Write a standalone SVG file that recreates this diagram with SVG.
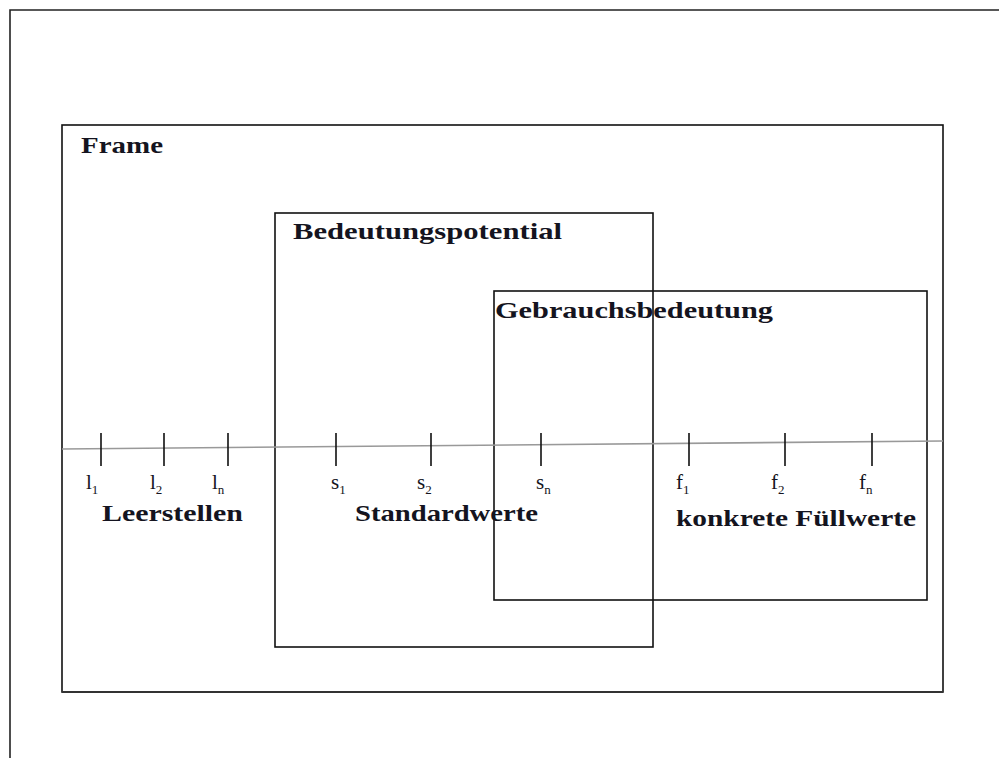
<svg xmlns="http://www.w3.org/2000/svg" width="999" height="758" viewBox="0 0 999 758">
<style>
.box{fill:none;stroke:#111;stroke-width:1.6}
.tick{stroke:#111;stroke-width:1.6}
.t{font-family:"Liberation Serif","DejaVu Serif",serif;fill:#141420}
.h{font-size:24px;font-weight:bold}
.v{font-size:21px}
.sub{font-size:13px}
</style>
<rect width="999" height="758" fill="#fff"/>
<g id="page"><path d="M10 758 V10 H999" fill="none" stroke="#222" stroke-width="1.6"/></g>
<g id="frame"><rect class="box" x="62" y="125" width="881" height="567"/><path d="M62 692 H943" stroke="#333" stroke-width="2.2"/><text class="t h" x="81" y="153" textLength="82" lengthAdjust="spacingAndGlyphs">Frame</text></g>
<g id="bedeutungspotential"><rect class="box" x="275" y="213" width="378" height="434"/><text class="t h" x="293" y="239" textLength="269" lengthAdjust="spacingAndGlyphs">Bedeutungspotential</text></g>
<g id="gebrauchsbedeutung"><rect class="box" x="494" y="291" width="433" height="309"/><text class="t h" x="495" y="318" textLength="278" lengthAdjust="spacingAndGlyphs">Gebrauchsbedeutung</text></g>
<g id="connectors">
<path d="M62 449 L943 441" stroke="#999" stroke-width="1.6" fill="none"/>
<path class="tick" d="M101 433V466M164 433V466M228 433V466M336 433V466M431 433V466M541 433V466M689 433V466M785 433V466M872 433V466"/>
</g>
<g id="leerstellen">
<text class="t v" x="86" y="489">l<tspan class="sub" dy="5">1</tspan></text>
<text class="t v" x="150" y="489">l<tspan class="sub" dy="5">2</tspan></text>
<text class="t v" x="212" y="489">l<tspan class="sub" dy="5">n</tspan></text>
<text class="t h" x="102" y="521" textLength="141" lengthAdjust="spacingAndGlyphs">Leerstellen</text>
</g>
<g id="standardwerte">
<text class="t v" x="331" y="489">s<tspan class="sub" dy="5">1</tspan></text>
<text class="t v" x="417" y="489">s<tspan class="sub" dy="5">2</tspan></text>
<text class="t v" x="536" y="489">s<tspan class="sub" dy="5">n</tspan></text>
<text class="t h" x="355" y="521" textLength="183" lengthAdjust="spacingAndGlyphs">Standardwerte</text>
</g>
<g id="fuellwerte">
<text class="t v" x="676" y="489">f<tspan class="sub" dy="5">1</tspan></text>
<text class="t v" x="771" y="489">f<tspan class="sub" dy="5">2</tspan></text>
<text class="t v" x="859" y="489">f<tspan class="sub" dy="5">n</tspan></text>
<text class="t h" x="676" y="526" textLength="240" lengthAdjust="spacingAndGlyphs">konkrete Füllwerte</text>
</g>
</svg>
